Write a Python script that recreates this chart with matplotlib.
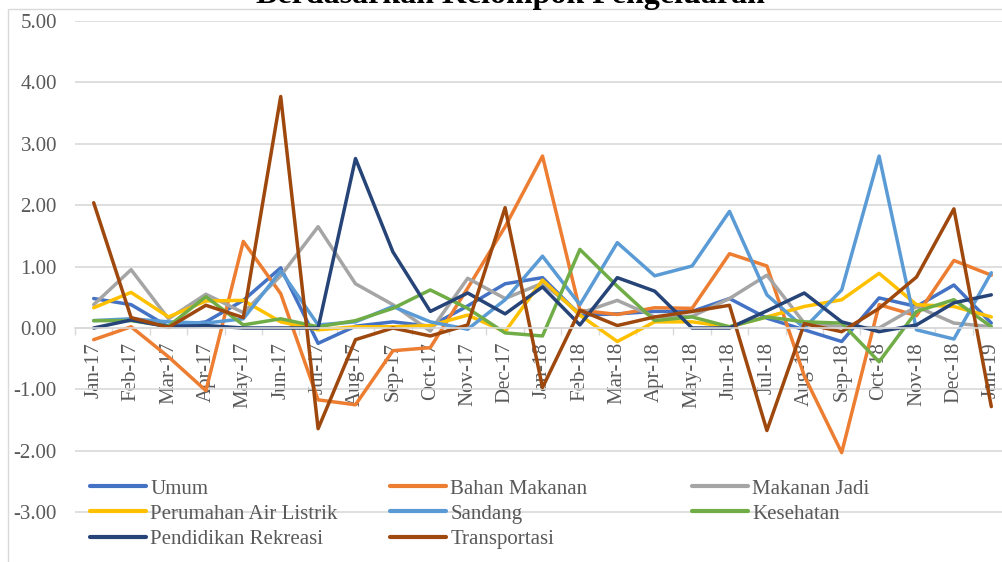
import matplotlib
matplotlib.use("Agg")
from matplotlib import pyplot as plt
from matplotlib.patches import Rectangle
from matplotlib.lines import Line2D

months = ['Jan-17', 'Feb-17', 'Mar-17', 'Apr-17', 'May-17', 'Jun-17', 'Jul-17', 'Aug-17',
          'Sep-17', 'Oct-17', 'Nov-17', 'Dec-17', 'Jan-18', 'Feb-18', 'Mar-18', 'Apr-18',
          'May-18', 'Jun-18', 'Jul-18', 'Aug-18', 'Sep-18', 'Oct-18', 'Nov-18', 'Dec-18', 'Jan-19']

umum = [0.48, 0.38, 0.02, 0.10, 0.45, 0.98, -0.25, 0.03, 0.10, 0.03, 0.36, 0.72, 0.82,
        0.21, 0.23, 0.27, 0.27, 0.48, 0.16, -0.03, -0.22, 0.49, 0.35, 0.70, 0.08]
bahan_makanan = [-0.19, 0.02, -0.47, -1.02, 1.41, 0.56, -1.17, -1.25, -0.37, -0.32, 0.65, 1.65, 2.80,
                 0.29, 0.22, 0.33, 0.32, 1.21, 1.01, -0.78, -2.03, 0.38, 0.20, 1.10, 0.86]
makanan_jadi = [0.38, 0.95, 0.15, 0.55, 0.25, 0.85, 1.65, 0.72, 0.38, -0.05, 0.81, 0.48, 0.73,
                0.24, 0.45, 0.18, 0.19, 0.48, 0.86, 0.08, 0.02, 0.00, 0.35, 0.08, 0.02]
perumahan = [0.33, 0.58, 0.18, 0.44, 0.45, 0.10, -0.03, 0.02, 0.02, 0.04, 0.21, -0.06, 0.78,
             0.21, -0.22, 0.10, 0.10, 0.02, 0.18, 0.35, 0.46, 0.89, 0.38, 0.35, 0.18]
sandang = [0.12, 0.15, 0.10, 0.08, 0.15, 0.93, 0.05, 0.10, 0.35, 0.10, -0.02, 0.46, 1.17,
           0.38, 1.39, 0.85, 1.01, 1.90, 0.54, 0.00, 0.62, 2.80, -0.03, -0.18, 0.90]
kesehatan = [0.12, 0.12, 0.03, 0.51, 0.05, 0.15, 0.02, 0.12, 0.32, 0.62, 0.32, -0.08, -0.13,
             1.28, 0.68, 0.12, 0.18, 0.02, 0.18, 0.10, 0.08, -0.55, 0.27, 0.46, 0.02]
pendidikan = [0.00, 0.13, 0.02, 0.04, 0.00, 0.00, 0.00, 2.76, 1.24, 0.27, 0.57, 0.23, 0.67,
              0.05, 0.82, 0.60, 0.00, 0.00, 0.28, 0.57, 0.10, -0.06, 0.05, 0.41, 0.54]
transportasi = [2.04, 0.17, 0.01, 0.37, 0.17, 3.77, -1.64, -0.19, 0.00, -0.13, 0.05, 1.96, -0.97,
                0.29, 0.04, 0.18, 0.27, 0.37, -1.67, 0.07, -0.06, 0.32, 0.83, 1.94, -1.28]

names = ['Umum', 'Bahan Makanan', 'Makanan Jadi', 'Perumahan Air Listrik',
         'Sandang', 'Kesehatan', 'Pendidikan Rekreasi', 'Transportasi']
series = [umum, bahan_makanan, makanan_jadi, perumahan, sandang, kesehatan, pendidikan, transportasi]
colors = ['#4472C4', '#ED7D31', '#A5A5A5', '#FFC000', '#5B9BD5', '#70AD47', '#264478', '#9E480E']

yticks = [-3, -2, -1, 0, 1, 2, 3, 4, 5]

plt.rcParams['font.family'] = ['Liberation Serif', 'DejaVu Serif']
grey = '#D9D9D9'
text_grey = '#595959'

fig = plt.figure(figsize=(10.02, 5.62), dpi=100)
W, H = 1002.0, 562.0
ax = fig.add_axes([75 / W, -11.6 / H, 935 / W, 552.6 / H])

x = list(range(len(months)))
for vals, name, col in zip(series, names, colors):
    ax.plot(x, vals, color=col, lw=2.5, label=name,
            solid_joinstyle='round', solid_capstyle='round')

ax.set_xlim(-0.5, len(months) - 0.5)
ax.set_ylim(-4, 5)

ax.set_yticks(yticks)
ax.set_yticklabels(['%.2f' % v for v in yticks])
ax.yaxis.grid(True, color=grey, lw=1.2)
ax.set_axisbelow(True)
ax.tick_params(axis='y', length=0, pad=13, labelsize=15, labelcolor=text_grey)

# category boundaries get the tick marks, the month names sit between them
ax.set_xticks([i - 0.5 for i in range(len(months) + 1)])
ax.set_xticklabels([])
ax.set_xticks(x, minor=True)
ax.set_xticklabels(months, minor=True)
ax.tick_params(axis='x', which='major', length=5, width=1, color=grey, direction='out')
ax.tick_params(axis='x', which='minor', length=0, pad=10, labelrotation=90,
               labelsize=15, labelcolor=text_grey)

for s in ['top', 'right', 'left']:
    ax.spines[s].set_visible(False)
ax.spines['bottom'].set_position(('data', 0))
ax.spines['bottom'].set_color(grey)
ax.spines['bottom'].set_linewidth(1.2)

# legend in three columns of equal width
handles = [Line2D([], [], color=c, lw=3, solid_capstyle='round') for c in colors]
columns = [[0, 3, 6], [1, 4, 7], [2, 5]]
col_x = [90, 390, 692]
for idx, cx in zip(columns, col_x):
    leg = fig.legend([handles[i] for i in idx], [names[i] for i in idx],
                     loc='upper left', bbox_to_anchor=(cx / W, 1 - 479 / H),
                     frameon=False, fontsize=15, handlelength=2.7, handletextpad=0.2,
                     labelspacing=0.27, borderpad=0, borderaxespad=0)
    for t in leg.get_texts():
        t.set_color(text_grey)

# chart area border
fig.add_artist(Rectangle((8 / W, -0.1), 1.2, 1.1 - 9.3 / H, transform=fig.transFigure,
                         fill=False, edgecolor=grey, lw=1))

fig.text(510 / W, 1 - 3 / H, 'Berdasarkan Kelompok Pengeluaran', ha='center', va='baseline',
         fontsize=23, fontweight='bold', color='black')

fig.savefig('out.png', dpi=100)
